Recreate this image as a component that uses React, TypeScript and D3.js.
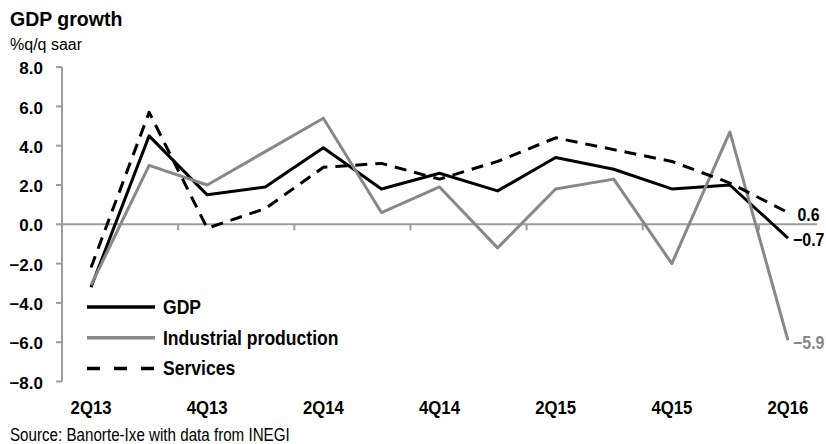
import React from "react";
import * as d3 from "d3";

const categories = ["2Q13","3Q13","4Q13","1Q14","2Q14","3Q14","4Q14","1Q15","2Q15","3Q15","4Q15","1Q16","2Q16"];
const gdp = [-3.2, 4.5, 1.5, 1.9, 3.9, 1.8, 2.6, 1.7, 3.4, 2.8, 1.8, 2.0, -0.7];
const industrial = [-3.1, 3.0, 2.0, 3.7, 5.4, 0.6, 1.9, -1.2, 1.8, 2.3, -2.0, 4.7, -5.9];
const services = [-2.2, 5.7, -0.2, 0.8, 2.9, 3.1, 2.3, 3.2, 4.4, 3.8, 3.2, 2.1, 0.6];
const yTicks = [-8, -6, -4, -2, 0, 2, 4, 6, 8];
const xTickLabels = ["2Q13", "4Q13", "2Q14", "4Q14", "2Q15", "4Q15", "2Q16"];
const seriesNames = ["GDP", "Industrial production", "Services"];

const W = 826, H = 444;
const BLACK = "#000000";
const GRAY = "#888888";
const AXIS = "#9c9c9c";
const FONT = "'Liberation Sans', Arial, sans-serif";

export default function App() {
  const x = d3.scaleBand<string>().domain(categories).range([62, 817]).paddingInner(0).paddingOuter(0);
  const bw = x.bandwidth();
  const cx = (i: number) => (x(categories[i]) as number) + bw / 2;
  const y = d3.scaleLinear().domain([-8, 8]).range([381.5, 67.1]);
  const line = d3.line<number>().x((_, i) => cx(i)).y((d) => y(d));
  const fmtTick = d3.format(".1f");
  const fmtLabel = d3.format(" .1f");

  const series = [
    { name: seriesNames[0], data: gdp, color: BLACK, dash: undefined as string | undefined, legDash: undefined as string | undefined },
    { name: seriesNames[1], data: industrial, color: GRAY, dash: undefined, legDash: undefined },
    { name: seriesNames[2], data: services, color: BLACK, dash: "12,8", legDash: "13,14" },
  ];

  const last = categories.length - 1;
  const boundaryTicks = d3.range(2, categories.length, 2).map((k) => 62 + k * bw);

  return (
    <div style={{ position: "absolute", left: 0, top: 0 }}>
      <svg width={W} height={H} style={{ display: "block", background: "#fff" }}>
        <text x={10} y={26} fontFamily={FONT} fontWeight="bold" fontSize={19.5} fill={BLACK}>GDP growth</text>
        <text x={10} y={50} fontFamily={FONT} fontSize={16} fill={BLACK}>%q/q saar</text>

        {/* y axis */}
        <line x1={62} x2={62} y1={y(8)} y2={y(-8)} stroke={AXIS} strokeWidth={2} />
        {yTicks.map((t) => (
          <g key={t}>
            <line x1={56} x2={62} y1={y(t)} y2={y(t)} stroke={AXIS} strokeWidth={2} />
            <text x={43} y={y(t) + 1} dy="0.36em" textAnchor="end" fontFamily={FONT} fontWeight="bold" fontSize={17} fill={BLACK}>
              {fmtTick(t)}
            </text>
          </g>
        ))}

        {/* x axis at zero */}
        <line x1={62} x2={817} y1={y(0)} y2={y(0)} stroke={AXIS} strokeWidth={2} />
        {boundaryTicks.map((bx) => (
          <line key={bx} x1={bx} x2={bx} y1={y(0)} y2={y(0) + 6} stroke={AXIS} strokeWidth={2} />
        ))}
        {xTickLabels.map((lab) => {
          const i = categories.indexOf(lab);
          return (
            <text key={lab} transform={`translate(${cx(i)},414) scale(0.88,1)`} textAnchor="middle" fontFamily={FONT} fontWeight="bold" fontSize={19} fill={BLACK}>
              {lab}
            </text>
          );
        })}

        {/* series */}
        {series.map((s) => (
          <path key={s.name} d={line(s.data) as string} fill="none" stroke={s.color} strokeWidth={3} strokeDasharray={s.dash} strokeLinejoin="round" strokeLinecap="butt" />
        ))}

        {/* end labels */}
        {series.map((s) => (
          <text key={s.name + "lab"} transform={`translate(${cx(last) + 5},${y(s.data[last]) + 1.5}) scale(0.84,1)`} dy="0.36em" fontFamily={FONT} fontWeight="bold" fontSize={19} fill={s.color} style={{ whiteSpace: "pre" }}>
            {fmtLabel(s.data[last])}
          </text>
        ))}

        {/* legend */}
        {series.map((s, i) => {
          const ly = 307 + i * 30.7;
          return (
            <g key={s.name + "leg"}>
              <line x1={87} x2={155} y1={ly} y2={ly} stroke={s.color} strokeWidth={3.5} strokeDasharray={s.legDash} />
              <text transform={`translate(163,${ly}) scale(0.9,1)`} dy="0.36em" fontFamily={FONT} fontWeight="bold" fontSize={19.5} fill={BLACK}>
                {s.name}
              </text>
            </g>
          );
        })}

        <text transform="translate(10,441) scale(0.82,1)" fontFamily={FONT} fontSize={18.5} fill={BLACK}>
          Source: Banorte-Ixe with data from INEGI
        </text>
      </svg>
    </div>
  );
}
